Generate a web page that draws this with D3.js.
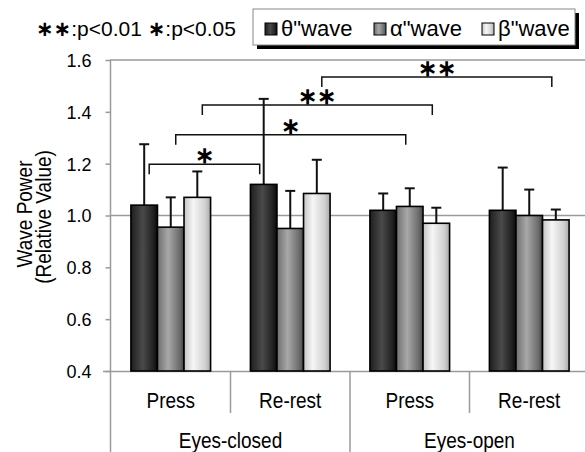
<!DOCTYPE html>
<html>
<head>
<meta charset="utf-8">
<script src="https://cdn.jsdelivr.net/npm/d3@7"></script>
<style>
  body { margin: 0; background: #fff; }
  text { font-family: "Liberation Sans", Arial, sans-serif; fill: #000; }
</style>
</head>
<body>
<svg width="585" height="452"></svg>
<script>
var svg = d3.select("svg");

// data
var conditions = ["Press", "Re-rest", "Press", "Re-rest"];
var groups = ["Eyes-closed", "Eyes-open"];
var series = ["θ\"wave", "α\"wave", "β\"wave"];
var theta = [1.04, 1.12, 1.02, 1.02];
var thetaErr = [0.235, 0.33, 0.065, 0.165];
var alpha = [0.955, 0.95, 1.035, 1.0];
var alphaErr = [0.115, 0.145, 0.07, 0.10];
var beta = [1.07, 1.085, 0.97, 0.983];
var betaErr = [0.10, 0.13, 0.06, 0.04];
var yTicks = [0.4, 0.6, 0.8, 1.0, 1.2, 1.4, 1.6];
// significance brackets: [condition, series] -> [condition, series], height, label
var brackets = [
  {a: [0, 0], b: [1, 0], y: 1.198, label: "∗"},
  {a: [0, 1], b: [2, 1], y: 1.312, label: "∗"},
  {a: [0, 2], b: [2, 2], y: 1.426, label: "∗∗"},
  {a: [1, 2], b: [3, 2], y: 1.534, label: "∗∗"}
];

var values = [theta, alpha, beta];
var errors = [thetaErr, alphaErr, betaErr];

var y = d3.scaleLinear().domain([0.4, 1.6]).range([371, 60]);
var x0 = d3.scaleBand().domain(d3.range(conditions.length)).range([111, 589]);
var bw = x0.bandwidth();
var x1 = d3.scaleBand().domain(d3.range(series.length)).range([bw / 6, bw * 5 / 6]);

// gradients
var defs = svg.append("defs");
var grads = [
  [["0%", "#1e1e1e"], ["45%", "#4a4a4a"], ["85%", "#202020"], ["100%", "#0a0a0a"]],
  [["0%", "#6e6e6e"], ["40%", "#a8a8a8"], ["85%", "#6a6a6a"], ["100%", "#444"]],
  [["0%", "#c4c4c4"], ["35%", "#f6f6f6"], ["80%", "#d0d0d0"], ["100%", "#a8a8a8"]]
];
grads.forEach(function(stops, i) {
  var g = defs.append("linearGradient").attr("id", "grad-" + i)
    .attr("x1", "0%").attr("x2", "100%").attr("y1", "0%").attr("y2", "0%");
  stops.forEach(function(s) {
    g.append("stop").attr("offset", s[0]).attr("stop-color", s[1]);
  });
});

// top line and 1.0 reference
svg.append("line").attr("x1", 110).attr("x2", 585)
  .attr("y1", y(1.6)).attr("y2", y(1.6)).attr("stroke", "#9a9a9a").attr("stroke-width", 1.5);
svg.append("line").attr("x1", 110).attr("x2", 585)
  .attr("y1", y(1.0)).attr("y2", y(1.0)).attr("stroke", "#9a9a9a").attr("stroke-width", 1.5);

// y axis
var yAxis = svg.append("g").attr("transform", "translate(110.5,0)")
  .call(d3.axisLeft(y).tickValues(yTicks).tickFormat(d3.format(".1f")).tickSize(5).tickSizeOuter(0));
yAxis.select(".domain").remove();
yAxis.selectAll(".tick line").attr("stroke", "#9a9a9a").attr("stroke-width", 1.5);
yAxis.selectAll(".tick text").attr("font-size", 18).attr("font-family", "Liberation Sans")
  .attr("x", -19).attr("dy", "0.36em");
svg.append("line").attr("x1", 110.5).attr("x2", 110.5).attr("y1", 60).attr("y2", 452)
  .attr("stroke", "#9a9a9a").attr("stroke-width", 1.5);

// x axis line and separators
svg.append("line").attr("x1", 103).attr("x2", 585).attr("y1", 371.5).attr("y2", 371.5)
  .attr("stroke", "#9a9a9a").attr("stroke-width", 1.5);
d3.range(1, conditions.length).forEach(function(i) {
  svg.append("line").attr("x1", x0(i)).attr("x2", x0(i))
    .attr("y1", 371).attr("y2", i % 2 === 0 ? 452 : 413)
    .attr("stroke", "#9a9a9a").attr("stroke-width", 1.5);
});

// bars
var cond = svg.selectAll("g.cond").data(conditions).enter().append("g")
  .attr("class", "cond").attr("transform", function(d, i) { return "translate(" + x0(i) + ",0)"; });

cond.each(function(c, ci) {
  var g = d3.select(this);
  series.forEach(function(s, si) {
    var v = values[si][ci], e = errors[si][ci];
    var cx = x1(si) + x1.bandwidth() / 2;
    g.append("line").attr("x1", cx).attr("x2", cx).attr("y1", y(v)).attr("y2", y(v + e))
      .attr("stroke", "#111").attr("stroke-width", 2);
    g.append("line").attr("x1", cx - 5).attr("x2", cx + 5).attr("y1", y(v + e)).attr("y2", y(v + e))
      .attr("stroke", "#111").attr("stroke-width", 2);
    g.append("rect").attr("x", x1(si)).attr("width", x1.bandwidth())
      .attr("y", y(v)).attr("height", y(0.4) - y(v))
      .attr("fill", "url(#grad-" + si + ")").attr("stroke", "#000").attr("stroke-width", 1.6);
  });
});

// condition + group labels (slightly stretched vertically like the source)
svg.selectAll("text.cond").data(conditions).enter().append("text")
  .attr("class", "cond")
  .attr("transform", function(d, i) { return "translate(" + (x0(i) + bw / 2) + ",408) scale(1,1.15)"; })
  .attr("text-anchor", "middle").attr("font-size", 19).text(function(d) { return d; });
svg.selectAll("text.grp").data(groups).enter().append("text")
  .attr("class", "grp")
  .attr("transform", function(d, i) { return "translate(" + (x0(i * 2) + bw) + ",448) scale(1,1.15)"; })
  .attr("text-anchor", "middle").attr("font-size", 19).text(function(d) { return d; });

// y title
var yt1 = svg.append("text").attr("transform", "translate(32,214) rotate(-90) scale(1,1.2)")
  .attr("text-anchor", "middle").attr("font-size", 19).text("Wave Power");
var yt2 = svg.append("text").attr("transform", "translate(51,217) rotate(-90) scale(1,1.2)")
  .attr("text-anchor", "middle").attr("font-size", 19).text("(Relative Value)");

// significance brackets
function barCenter(p) { return x0(p[0]) + x1(p[1]) + x1.bandwidth() / 2; }
brackets.forEach(function(b) {
  var xa = barCenter(b.a) + 5, xb = barCenter(b.b) - 4, yy = y(b.y);
  svg.append("path")
    .attr("d", "M" + xa + "," + (yy + 10) + "V" + yy + "H" + xb + "V" + (yy + 10))
    .attr("fill", "none").attr("stroke", "#111").attr("stroke-width", 1.5);
  svg.append("text").attr("x", (xa + xb) / 2).attr("y", yy - 1)
    .attr("text-anchor", "middle").attr("font-size", 23).attr("font-weight", "bold")
    .attr("font-family", "DejaVu Sans").text(b.label);
});

// p-value note
var note = svg.append("text").attr("x", 36).attr("y", 36).attr("font-size", 21);
note.append("tspan").attr("font-family", "DejaVu Sans").attr("font-weight", "bold").text("∗∗");
note.append("tspan").text(":p<0.01 ");
note.append("tspan").attr("font-family", "DejaVu Sans").attr("font-weight", "bold").text("∗");
note.append("tspan").text(":p<0.05");

// legend
svg.append("rect").attr("x", 257).attr("y", 13).attr("width", 322).attr("height", 36).attr("fill", "#000");
svg.append("rect").attr("x", 253).attr("y", 9).attr("width", 322).attr("height", 36)
  .attr("fill", "#fff").attr("stroke", "#888").attr("stroke-width", 1);
var legX = [265, 374, 482];
series.forEach(function(s, i) {
  svg.append("rect").attr("x", legX[i]).attr("y", 23).attr("width", 12).attr("height", 12)
    .attr("fill", "url(#grad-" + i + ")").attr("stroke", "#000").attr("stroke-width", 1);
  svg.append("text").attr("x", legX[i] + 16).attr("y", 36).attr("font-size", 22).text(s);
});
</script>
</body>
</html>
